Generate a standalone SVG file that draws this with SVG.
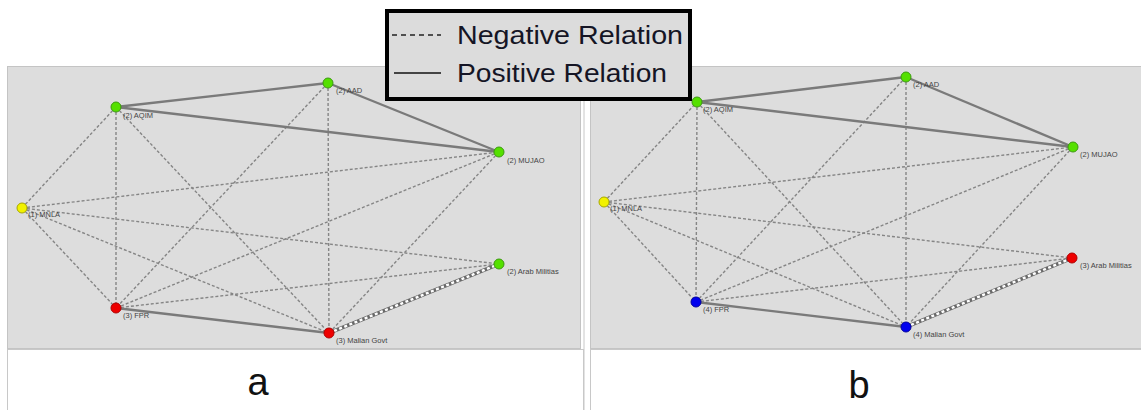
<svg xmlns="http://www.w3.org/2000/svg" width="1141" height="410" viewBox="0 0 1141 410">
<style>
.panel{fill:#dddddd;stroke:#c4c4c4;stroke-width:1}
.white{fill:#ffffff;stroke:#c8c8c8;stroke-width:1}
.neg{stroke:#858585;stroke-width:1.4;stroke-dasharray:3 2;fill:none}
.pos{stroke:#7a7a7a;stroke-width:2.4;fill:none}
.spb{stroke:#6a6a6a;stroke-width:3.6;fill:none}
.spw{stroke:#ffffff;stroke-width:2.4;stroke-dasharray:3 2.5;fill:none}
.lbl{font-family:"Liberation Sans",Arial,sans-serif;font-size:7.5px;fill:#444444}
.g{fill:#55e000;stroke:#3c9a10;stroke-width:1}
.y{fill:#f2f200;stroke:#a8a800;stroke-width:1}
.r{fill:#ee0000;stroke:#b00000;stroke-width:1}
.bl{fill:#0000ee;stroke:#0000a0;stroke-width:1}
.leg{font-family:"Liberation Sans",Arial,sans-serif;font-size:25px;fill:#151525}
.cap{font-family:"Liberation Sans",Arial,sans-serif;font-size:38px;fill:#111}
</style>
<rect width="1141" height="410" fill="#ffffff"/>
<g id="panel-a">
<rect class="panel" x="7.5" y="66.5" width="573" height="282"/>
<rect class="white" x="7.5" y="349.5" width="576" height="70"/>
</g>
<g id="panel-b">
<rect class="panel" x="590.5" y="66.5" width="560" height="282"/>
<rect class="white" x="590.5" y="349.5" width="560" height="70"/>
<line x1="584" y1="66" x2="584" y2="410" stroke="#c8c8c8" stroke-width="1"/>
</g>
<g id="connectors">
<line class="neg" x1="22" y1="208" x2="116" y2="107"/>
<line class="neg" x1="22" y1="208" x2="499" y2="152"/>
<line class="neg" x1="22" y1="208" x2="499" y2="264"/>
<line class="neg" x1="22" y1="208" x2="116" y2="308"/>
<line class="neg" x1="22" y1="208" x2="329" y2="333"/>
<line class="neg" x1="116" y1="107" x2="116" y2="308"/>
<line class="neg" x1="116" y1="107" x2="329" y2="333"/>
<line class="neg" x1="328" y1="83" x2="116" y2="308"/>
<line class="neg" x1="328" y1="83" x2="329" y2="333"/>
<line class="neg" x1="499" y1="152" x2="116" y2="308"/>
<line class="neg" x1="499" y1="152" x2="329" y2="333"/>
<line class="neg" x1="116" y1="308" x2="499" y2="264"/>
<line class="pos" x1="116" y1="107" x2="328" y2="83"/>
<line class="pos" x1="116" y1="107" x2="499" y2="152"/>
<line class="pos" x1="328" y1="83" x2="499" y2="152"/>
<line class="pos" x1="116" y1="308" x2="329" y2="333"/>
<line class="spb" x1="329" y1="333" x2="499" y2="264"/>
<line class="spw" x1="329" y1="333" x2="499" y2="264"/>
<line class="neg" x1="604" y1="202" x2="697" y2="102"/>
<line class="neg" x1="604" y1="202" x2="1073" y2="147"/>
<line class="neg" x1="604" y1="202" x2="1072" y2="258"/>
<line class="neg" x1="604" y1="202" x2="696" y2="302"/>
<line class="neg" x1="604" y1="202" x2="906" y2="327"/>
<line class="neg" x1="697" y1="102" x2="696" y2="302"/>
<line class="neg" x1="697" y1="102" x2="906" y2="327"/>
<line class="neg" x1="906" y1="77" x2="696" y2="302"/>
<line class="neg" x1="906" y1="77" x2="906" y2="327"/>
<line class="neg" x1="1073" y1="147" x2="696" y2="302"/>
<line class="neg" x1="1073" y1="147" x2="906" y2="327"/>
<line class="neg" x1="696" y1="302" x2="1072" y2="258"/>
<line class="pos" x1="697" y1="102" x2="906" y2="77"/>
<line class="pos" x1="697" y1="102" x2="1073" y2="147"/>
<line class="pos" x1="906" y1="77" x2="1073" y2="147"/>
<line class="pos" x1="696" y1="302" x2="906" y2="327"/>
<line class="spb" x1="906" y1="327" x2="1072" y2="258"/>
<line class="spw" x1="906" y1="327" x2="1072" y2="258"/>
</g>
<g id="a-mnla"><circle class="y" cx="22" cy="208" r="5"/><text class="lbl" x="28" y="217">(1) MNLA</text></g>
<g id="a-aqim"><circle class="g" cx="116" cy="107" r="5"/><text class="lbl" x="123" y="118">(2) AQIM</text></g>
<g id="a-aad"><circle class="g" cx="328" cy="83" r="5"/><text class="lbl" x="336" y="93">(2) AAD</text></g>
<g id="a-mujao"><circle class="g" cx="499" cy="152" r="5"/><text class="lbl" x="507" y="163">(2) MUJAO</text></g>
<g id="a-arab"><circle class="g" cx="499" cy="264" r="5"/><text class="lbl" x="507" y="274">(2) Arab Militias</text></g>
<g id="a-fpr"><circle class="r" cx="116" cy="308" r="5"/><text class="lbl" x="123" y="318">(3) FPR</text></g>
<g id="a-malian"><circle class="r" cx="329" cy="333" r="5"/><text class="lbl" x="336" y="343">(3) Malian Govt</text></g>
<g id="b-mnla"><circle class="y" cx="604" cy="202" r="5"/><text class="lbl" x="610" y="211">(1) MNLA</text></g>
<g id="b-aqim"><circle class="g" cx="697" cy="102" r="5"/><text class="lbl" x="703" y="112">(2) AQIM</text></g>
<g id="b-aad"><circle class="g" cx="906" cy="77" r="5"/><text class="lbl" x="913" y="87">(2) AAD</text></g>
<g id="b-mujao"><circle class="g" cx="1073" cy="147" r="5"/><text class="lbl" x="1080" y="157">(2) MUJAO</text></g>
<g id="b-arab"><circle class="r" cx="1072" cy="258" r="5"/><text class="lbl" x="1080" y="268">(3) Arab Militias</text></g>
<g id="b-fpr"><circle class="bl" cx="696" cy="302" r="5"/><text class="lbl" x="703" y="312">(4) FPR</text></g>
<g id="b-malian"><circle class="bl" cx="906" cy="327" r="5"/><text class="lbl" x="913" y="337">(4) Malian Govt</text></g>
<g id="legend">
<rect x="387" y="11" width="303" height="88" fill="#dcdcdc" stroke="#000" stroke-width="4"/>
<line x1="392" y1="35" x2="441" y2="35" stroke="#222" stroke-width="1.6" stroke-dasharray="5 4"/>
<line x1="394" y1="73" x2="441" y2="73" stroke="#444" stroke-width="2"/>
<text class="leg" x="457" y="44" textLength="226" lengthAdjust="spacingAndGlyphs">Negative Relation</text>
<text class="leg" x="457" y="82" textLength="210" lengthAdjust="spacingAndGlyphs">Positive Relation</text>
</g>
<g id="captions">
<text class="cap" x="258" y="395" text-anchor="middle">a</text>
<text class="cap" x="859" y="398" text-anchor="middle">b</text>
</g>
</svg>
